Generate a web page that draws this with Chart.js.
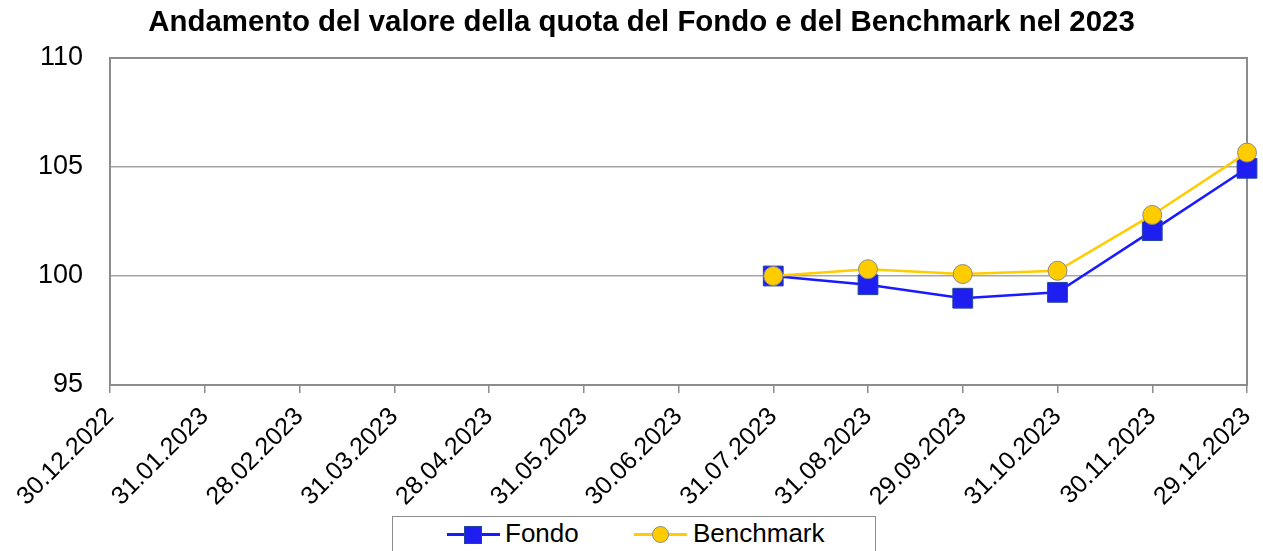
<!DOCTYPE html>
<html>
<head>
<meta charset="utf-8">
<script src="https://cdn.jsdelivr.net/npm/chart.js@4/dist/chart.umd.min.js"></script>
<style>
    body { margin: 0; background: #fff; font-family: 'Liberation Sans', Arial, sans-serif; }
    #wrap { position: relative; width: 1263px; height: 551px; overflow: hidden; }
    #legend {
        position: absolute; left: 392px; top: 516px; width: 482px; height: 50px;
        border: 1px solid #8c8c8c; background: #fff;
    }
    .item { position: absolute; top: 1px; font-size: 26px; line-height: 30px; color: #000; white-space: nowrap; }
    .icon { position: absolute; top: 16px; height: 2.5px; width: 53px; }
    .mark { position: absolute; box-sizing: border-box; }
</style>
</head>
<body>
<div id="wrap">
    <canvas id="chart" width="1263" height="551"></canvas>
    <div id="legend">
        <div class="icon" style="left:54px;background:#1a1aff;"></div>
        <div class="mark" style="left:71px;top:9px;width:18px;height:18px;background:#1e1ef0;border:1px solid #24449c;"></div>
        <div class="item" style="left:112px;">Fondo</div>
        <div class="icon" style="left:241px;background:#ffcc00;"></div>
        <div class="mark" style="left:259px;top:9px;width:17px;height:17px;border-radius:50%;background:#ffcc00;border:1px solid #8a8a8a;"></div>
        <div class="item" style="left:300px;">Benchmark</div>
    </div>
</div>
<script>
// Chart data
const dateLabels = ['30.12.2022', '31.01.2023', '28.02.2023', '31.03.2023', '28.04.2023', '31.05.2023',
    '30.06.2023', '31.07.2023', '31.08.2023', '29.09.2023', '31.10.2023', '30.11.2023', '29.12.2023'];
const fondoValues = [null, null, null, null, null, null, null, 100, 99.6, 98.98, 99.25, 102.08, 104.94];
const benchmarkValues = [null, null, null, null, null, null, null, 100, 100.31, 100.09, 100.24, 102.8, 105.66];
const yTicks = [95, 100, 105, 110];

const FONT = "'Liberation Sans', Arial, sans-serif";

// frame around the plot area
const plotBorder = {
    id: 'plotBorder',
    beforeDatasetsDraw(chart) {
        const { ctx, chartArea: a } = chart;
        ctx.save();
        ctx.strokeStyle = '#8c8c8c';
        ctx.lineWidth = 2;
        ctx.strokeRect(a.left, a.top, a.right - a.left, a.bottom - a.top);
        ctx.restore();
    }
};

const ctx = document.getElementById('chart').getContext('2d');
new Chart(ctx, {
    type: 'line',
    data: {
        labels: dateLabels,
        datasets: [{
            label: 'Fondo',
            data: fondoValues,
            borderColor: '#1a1aff',
            borderWidth: 2.5,
            backgroundColor: '#1e1ef0',
            pointStyle: 'rect',
            pointRadius: 14,
            pointBorderColor: '#24449c',
            pointBorderWidth: 1,
            order: 1
        }, {
            label: 'Benchmark',
            data: benchmarkValues,
            borderColor: '#ffcc00',
            borderWidth: 2.5,
            backgroundColor: '#ffcc00',
            pointStyle: 'circle',
            pointRadius: 9.5,
            pointBorderColor: '#8a8a8a',
            pointBorderWidth: 1,
            order: 0
        }]
    },
    options: {
        responsive: false,
        animation: false,
        layout: { padding: { left: 20, right: 0, top: 0, bottom: 0 } },
        plugins: {
            legend: { display: false },
            tooltip: { enabled: false },
            title: {
                display: true,
                text: 'Andamento del valore della quota del Fondo e del Benchmark nel 2023',
                color: '#000',
                font: { family: FONT, size: 29.4, weight: 'bold', lineHeight: 1.2 },
                padding: { top: 5, bottom: 17.7 }
            }
        },
        scales: {
            x: {
                offset: false,
                grid: { drawOnChartArea: false, color: '#8c8c8c', lineWidth: 1.5, tickLength: 8 },
                border: { display: false },
                ticks: {
                    color: '#000',
                    font: { family: FONT, size: 25 },
                    minRotation: 45,
                    maxRotation: 45,
                    autoSkip: false,
                    padding: 9
                },
                afterFit(scale) {
                    scale.height = 166;
                    scale.paddingRight = 16;
                }
            },
            y: {
                min: 95,
                max: 110,
                afterBuildTicks(scale) {
                    scale.ticks = yTicks.map(v => ({ value: v }));
                },
                grid: { color: '#a6a6a6', lineWidth: 1.5, drawTicks: false },
                border: { display: false },
                ticks: {
                    color: '#000',
                    font: { family: FONT, size: 27 },
                    padding: 27
                },
                afterFit(scale) {
                    scale.width = 90;
                }
            }
        }
    },
    plugins: [plotBorder]
});
</script>
</body>
</html>
